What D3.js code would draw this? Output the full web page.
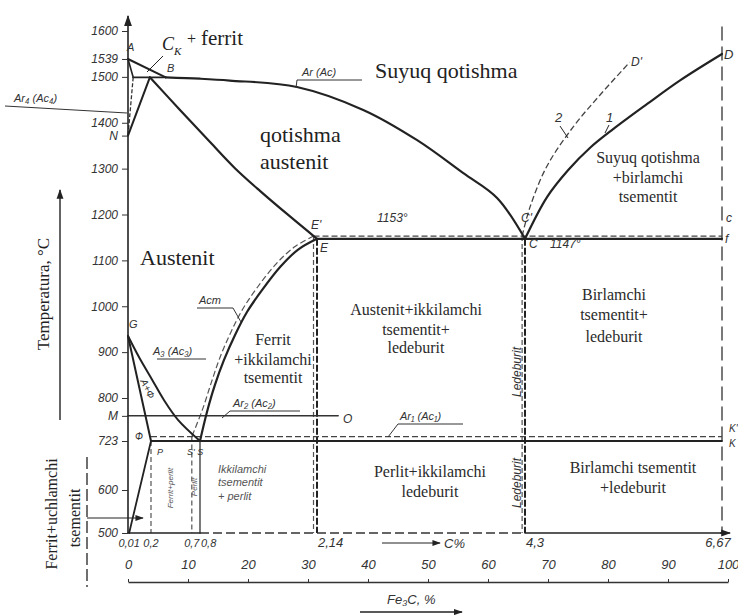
<!DOCTYPE html>
<html>
<head>
<meta charset="utf-8">
<title>Temir–uglerod holat diagrammasi</title>
<script src="https://cdn.jsdelivr.net/npm/d3@7/dist/d3.min.js"></script>
<style>
  html, body { margin: 0; padding: 0; background: #fff; }
  svg { display: block; }
</style>
</head>
<body>
<svg id="chart" width="738" height="615"></svg>
<script>
// ---------- Axis ticks ----------
const tempTicks = [1600, 1539, 1500, 1400, 1372, 1300, 1200, 1100, 1000, 900, 800, 768, 723, 600, 500];
const tempTickLabels = ["1600", "1539", "1500", "1400", "N", "1300", "1200", "1100", "1000", "900", "800", "M", "723", "600", "500"];
const carbonTicks = [0.01, 0.2, 0.7, 0.8, 2.14, 4.3, 6.67];
const carbonTickLabels = ["0,01", "0,2", "0,7", "0,8", "2,14", "4,3", "6,67"];
const cementiteTicks = [0, 10, 20, 30, 40, 50, 60, 70, 80, 90, 100];

// ---------- Phase boundaries, points are [C %, T °C] ----------
const deltaLiquidusAB = [[0, 1539], [0.38, 1499]];
const deltaSolidusAH = [[0, 1539], [0.045, 1499]];
const peritecticHJB = [[0.045, 1499], [0.38, 1499]];
const boundaryHN = [[0.045, 1499], [0, 1372]];
const boundaryJN = [[0.19, 1499], [0, 1372]];
const liquidusBC = [[0.38, 1499], [0.8, 1496], [1.14, 1492], [1.91, 1478], [2.62, 1428], [3.18, 1362], [3.66, 1290], [4.01, 1236], [4.3, 1147]];
const liquidusCD = [[4.3, 1147], [4.565, 1238], [4.82, 1297], [5.08, 1345], [5.36, 1386], [5.77, 1441], [6.17, 1493], [6.67, 1550]];
const graphiteLiquidusCD = [[4.27, 1153], [4.36, 1216], [4.56, 1304], [4.88, 1391], [5.2, 1460], [5.56, 1532]];
const solidusJE = [[0.19, 1499], [0.555, 1428], [0.915, 1358], [1.2, 1301], [1.49, 1251], [1.81, 1199], [2.14, 1147]];
const eutecticECF = [[2.14, 1147], [6.67, 1147]];
const graphiteEutectic = [[2.1, 1153], [6.67, 1153]];
const solvusES = [[2.14, 1147], [1.92, 1123], [1.72, 1086], [1.51, 1035], [1.34, 988], [1.2, 937], [1.075, 883], [0.97, 828], [0.88, 775], [0.8, 723]];
const graphiteSolvusES = [[2.1, 1153], [1.88, 1129], [1.67, 1092], [1.46, 1042], [1.29, 994], [1.155, 944], [1.03, 889], [0.93, 834], [0.83, 780], [0.7, 731]];
const lineGS = [[0, 935], [0.1, 887], [0.21, 841], [0.36, 796], [0.53, 761], [0.8, 723]];
const lineGP = [[0, 935], [0.2, 723]];
const solvusPQ = [[0.2, 723], [0.01, 500]];
const eutectoidPSK = [[0.2, 723], [6.67, 723]];
const graphiteEutectoid = [[0.2, 731], [6.67, 731]];
const curieMO = [[0, 768], [2.36, 768]];

// Vertical composition lines
const verticalP = [[0.2, 723], [0.2, 500]];
const verticalS = [[0.8, 723], [0.8, 500]];
const verticalS2 = [[0.7, 731], [0.7, 500]];
const verticalE = [[2.14, 1147], [2.14, 500]];
const verticalE2 = [[2.1, 1153], [2.1, 500]];
const verticalC = [[4.3, 1147], [4.3, 500]];
const verticalC2 = [[4.27, 1153], [4.27, 500]];
const verticalFe3C = [[6.67, 1610], [6.67, 500]];
const baseSolid1 = [[0, 500], [0.8, 500]];
const baseDashed = [[0.8, 500], [4.3, 500]];
const baseSolid2 = [[4.3, 500], [6.67, 500]];

// ---------- Scales ----------
const x = d3.scaleLinear().domain([0, 0.2, 0.8, 2.14, 4.3, 6.67]).range([128, 151, 200, 317, 525, 722]);
const y = d3.scaleLinear().domain([500, 600, 723, 800, 1600]).range([533, 490, 441, 398, 31]);
const xFe3C = d3.scaleLinear().domain([0, 100]).range([128, 728]);

const SERIF = "'Liberation Serif', 'Times New Roman', serif";
const SANS = "'Liberation Sans', 'DejaVu Sans', sans-serif";
const INK = "#222";

const svg = d3.select("#chart");
const defs = svg.append("defs");
defs.append("marker")
  .attr("id", "arrow").attr("viewBox", "0 0 10 10")
  .attr("refX", 9).attr("refY", 5)
  .attr("markerWidth", 7).attr("markerHeight", 7)
  .attr("orient", "auto")
  .append("path").attr("d", "M0,1.5L10,5L0,8.5z").attr("fill", INK);

const gLines = svg.append("g");

function drawLine(data, o = {}) {
  const gen = d3.line().x(d => x(d[0])).y(d => y(d[1]));
  if (o.curved) gen.curve(d3.curveCatmullRom.alpha(0.5));
  return gLines.append("path")
    .attr("d", gen(data))
    .attr("fill", "none")
    .attr("stroke", o.color || INK)
    .attr("stroke-width", o.width || 2)
    .attr("stroke-dasharray", o.dash || null)
    .attr("stroke-linejoin", "round")
    .attr("stroke-linecap", o.dash ? "butt" : "round");
}

function seg(x1, y1, x2, y2, o = {}) {
  const l = svg.append("line")
    .attr("x1", x1).attr("y1", y1).attr("x2", x2).attr("y2", y2)
    .attr("stroke", o.color || INK).attr("stroke-width", o.width || 1)
    .attr("stroke-dasharray", o.dash || null);
  if (o.arrow) l.attr("marker-end", "url(#arrow)");
  return l;
}

function txt(str, px, py, o = {}) {
  const t = svg.append("text")
    .attr("x", px).attr("y", py)
    .attr("font-family", o.family || SERIF)
    .attr("font-size", o.size || 16)
    .attr("font-style", o.italic ? "italic" : null)
    .attr("text-anchor", o.anchor || "start")
    .attr("fill", o.fill || INK)
    .text(str);
  if (o.rotate) t.attr("transform", `rotate(${o.rotate},${px},${py})`);
  return t;
}

function block(lines, cx, baselines, size) {
  lines.forEach((s, i) => txt(s, cx, baselines[i], { size, anchor: "middle", fill: "#2a2a2a" }));
}

// ---------- Frame and vertical composition lines ----------
drawLine(verticalFe3C, { width: 1.3, dash: "14,6", color: "#333" });
drawLine(verticalP, { width: 1.1, dash: "5,3", color: "#444" });
drawLine(verticalS2, { width: 1.1, dash: "5,3", color: "#444" });
drawLine(verticalS, { width: 1.3, color: "#333" });
drawLine(verticalE2, { width: 1.2, dash: "5,3", color: "#555" });
drawLine(verticalE, { width: 2, dash: "7,2", color: "#222" });
drawLine(verticalC2, { width: 1.2, dash: "5,3", color: "#555" });
drawLine(verticalC, { width: 2, dash: "7,2", color: "#222" });
drawLine(baseSolid1, { width: 1.5 });
drawLine(baseDashed, { width: 1.4, dash: "9,4", color: "#333" });
drawLine(baseSolid2, { width: 1.6 });
seg(x(6.67) - 2, y(500), x(6.67) + 8, y(500), { width: 1.4, arrow: true });

// ---------- Stable (graphite) system, dashed ----------
drawLine(graphiteEutectic, { width: 1.3, dash: "6,3", color: "#444" });
drawLine(graphiteEutectoid, { width: 1.3, dash: "6,3", color: "#444" });
drawLine(graphiteLiquidusCD, { width: 1.3, dash: "6,3", color: "#444", curved: true });
drawLine(graphiteSolvusES, { width: 1.2, dash: "6,3", color: "#555", curved: true });

// ---------- Metastable (cementite) system, solid ----------
drawLine(curieMO, { width: 1.5, color: "#333" });
drawLine(eutectoidPSK, { width: 2 });
drawLine(eutecticECF, { width: 2.2 });
drawLine(solvusPQ, { width: 1.8 });
drawLine(lineGP, { width: 2 });
drawLine(lineGS, { width: 2, curved: true });
drawLine(solvusES, { width: 2.2, curved: true });
drawLine(solidusJE, { width: 2.2, curved: true });
drawLine(liquidusBC, { width: 2.2, curved: true });
drawLine(liquidusCD, { width: 2.2, curved: true });
drawLine(deltaLiquidusAB, { width: 2 });
drawLine(deltaSolidusAH, { width: 1.6 });
drawLine(peritecticHJB, { width: 1.8 });
drawLine(boundaryHN, { width: 1.3, dash: "4,2", color: "#333" });
drawLine(boundaryJN, { width: 2 });

// ---------- Temperature axis ----------
seg(x(0), y(500), x(0), 16, { width: 1.6, arrow: true });
const yAxis = d3.axisLeft(y)
  .tickValues(tempTicks)
  .tickFormat((d, i) => tempTickLabels[i])
  .tickSize(6).tickPadding(4).tickSizeOuter(0);
const gy = svg.append("g").attr("transform", `translate(${x(0)},0)`).call(yAxis);
gy.select(".domain").remove();
gy.selectAll(".tick line").attr("stroke", "#333").attr("stroke-width", 1);
gy.selectAll(".tick text")
  .attr("font-family", SANS).attr("font-style", "italic")
  .attr("font-size", 12).attr("fill", "#333");

// ---------- Carbon labels under the frame ----------
carbonTicks.forEach((c, i) => {
  const lab = carbonTickLabels[i];
  const small = c < 1;
  let anchor = "middle", dx = 0;
  if (lab === "0,8" || lab === "2,14" || lab === "4,3") { anchor = "start"; dx = 1; }
  if (lab === "6,67") { dx = -4; }
  txt(lab, x(c) + dx, 547, { family: SANS, italic: true, size: small ? 11 : 13, anchor, fill: "#333" });
});
seg(382, 543, 440, 543, { width: 1.2, arrow: true });
txt("C%", 444, 548, { family: SANS, italic: true, size: 13, fill: "#333" });

// ---------- Cementite axis ----------
const fe3cAxis = d3.axisTop(xFe3C).tickValues(cementiteTicks).tickSize(3).tickPadding(10).tickSizeOuter(0);
const gf = svg.append("g").attr("transform", "translate(0,582)").call(fe3cAxis);
gf.select(".domain").attr("stroke", "#333").attr("stroke-width", 1.4);
gf.selectAll(".tick line").attr("stroke", "#333");
gf.selectAll(".tick text")
  .attr("font-family", SANS).attr("font-style", "italic")
  .attr("font-size", 13).attr("fill", "#333");
txt("Fe₃C, %", 387, 604, { family: SANS, italic: true, size: 13, fill: "#333" });
seg(360, 612, 462, 612, { width: 1.3, arrow: true });

// ---------- Axis title ----------
txt("Temperatura, °C", 49, 294, { size: 17, anchor: "middle", rotate: -90 });
seg(60, 420, 60, 190, { width: 1.4, arrow: true });

// ---------- Phase field labels ----------
txt("Suyuq qotishma", 375, 78, { size: 22 });
txt("qotishma", 260, 142, { size: 22 });
txt("austenit", 260, 169, { size: 22 });
txt("Austenit", 140, 265, { size: 22 });
txt("C", 162, 50, { size: 18, italic: true });
txt("K", 174, 55, { size: 11, italic: true });
txt("+", 187, 44, { size: 16 });
txt("ferrit", 201, 45, { size: 21 });
seg(163, 56, 147, 72, { width: 1 });

block(["Suyuq qotishma", "+birlamchi", "tsementit"], 648, [163, 183, 202], 16);
block(["Austenit+ikkilamchi", "tsementit+", "ledeburit"], 416, [315, 335, 353], 16);
block(["Ferrit", "+ikkilamchi", "tsementit"], 273, [345, 365, 383], 16);
block(["Birlamchi", "tsementit+", "ledeburit"], 614, [300, 320, 342], 16);
block(["Perlit+ikkilamchi", "ledeburit"], 430, [477, 497], 16);
block(["Birlamchi tsementit", "+ledeburit"], 633, [473, 493], 16);

// Ferrite + tertiary cementite note on the left
txt("Ferrit+uchlamchi", 57, 514, { size: 16, anchor: "middle", rotate: -90 });
txt("tsementit", 80, 518, { size: 16, anchor: "middle", rotate: -90 });
seg(87, 457, 87, 587, { width: 1.4, dash: "12,4", color: "#333" });
seg(87, 518, 143, 518, { width: 1.2, arrow: true });

// ---------- Point letters and temperature notes ----------
const note = { family: SANS, italic: true, size: 12, fill: "#333" };
txt("A", 127, 51, { ...note, size: 11 });
txt("B", 167, 72, { ...note, size: 11 });
txt("G", 129, 328, { ...note, size: 11 });
txt("E'", 311, 229, note);
txt("E", 320, 252, note);
txt("C'", 521, 222, note);
txt("C", 529, 248, note);
txt("D", 724, 59, { ...note, size: 13 });
txt("D'", 631, 66, note);
txt("c", 726, 222, note);
txt("f", 725, 243, note);
txt("K'", 729, 432, { ...note, size: 10 });
txt("K", 729, 447, { ...note, size: 10 });
txt("O", 343, 423, note);
txt("P", 157, 455, { ...note, size: 9 });
txt("S' S", 187, 455, { ...note, size: 9 });
txt("1153°", 377, 222, note);
txt("1147°", 550, 248, note);
txt("1", 606, 122, { ...note, size: 13 });
seg(609, 125, 605, 133, { width: 1 });
txt("2", 555, 122, { ...note, size: 13 });
seg(560, 126, 568, 138, { width: 1 });

// Critical point labels with underline leaders
function critical(label, px, py, ux1, ux2, lx, ly) {
  txt(label, px, py, { family: SANS, italic: true, size: 11, fill: "#333" });
  seg(ux1, py + 4, ux2, py + 4, { width: 1, color: "#333" });
  if (lx !== undefined) seg(ux1, py + 4, lx, ly, { width: 1, color: "#333" });
}
critical("Ar (Ac)", 302, 76, 297, 362, 296, 88);
critical("A₃ (Ac₃)", 153, 355, 157, 206);
critical("Acm", 199, 304, 197, 233);
seg(233, 308, 241, 322, { width: 1, color: "#333" });
critical("Ar₂ (Ac₂)", 233, 407, 230, 300, 222, 418);
critical("Ar₁ (Ac₁)", 400, 420, 398, 463, 388, 437);
txt("Ar₄ (Ac₄)", 14, 102, { family: SANS, italic: true, size: 11, fill: "#333" });
seg(5, 106, 127, 113, { width: 1, color: "#333" });

txt("A+Ф", 140, 381, { family: SANS, italic: true, size: 10, fill: "#333", rotate: 64 });
txt("Ф", 135, 440, { family: SANS, italic: true, size: 10, fill: "#333" });

// Small notes in the hypoeutectoid / hypereutectoid strip
const faint = { family: SANS, italic: true, size: 8, fill: "#555", anchor: "middle" };
txt("Ferrit+perlit", 173, 488, { ...faint, rotate: -90 });
txt("Perlit", 197, 487, { ...faint, rotate: -90 });
txt("Ikkilamchi", 218, 473, { family: SANS, italic: true, size: 11, fill: "#555" });
txt("tsementit", 218, 486, { family: SANS, italic: true, size: 11, fill: "#555" });
txt("+ perlit", 218, 500, { family: SANS, italic: true, size: 11, fill: "#555" });

// Ledeburite notes along the eutectic composition
txt("Ledeburit", 521, 372, { family: SANS, italic: true, size: 12, fill: "#333", anchor: "middle", rotate: -90 });
txt("Ledeburit", 521, 483, { family: SANS, italic: true, size: 12, fill: "#333", anchor: "middle", rotate: -90 });
</script>
</body>
</html>
